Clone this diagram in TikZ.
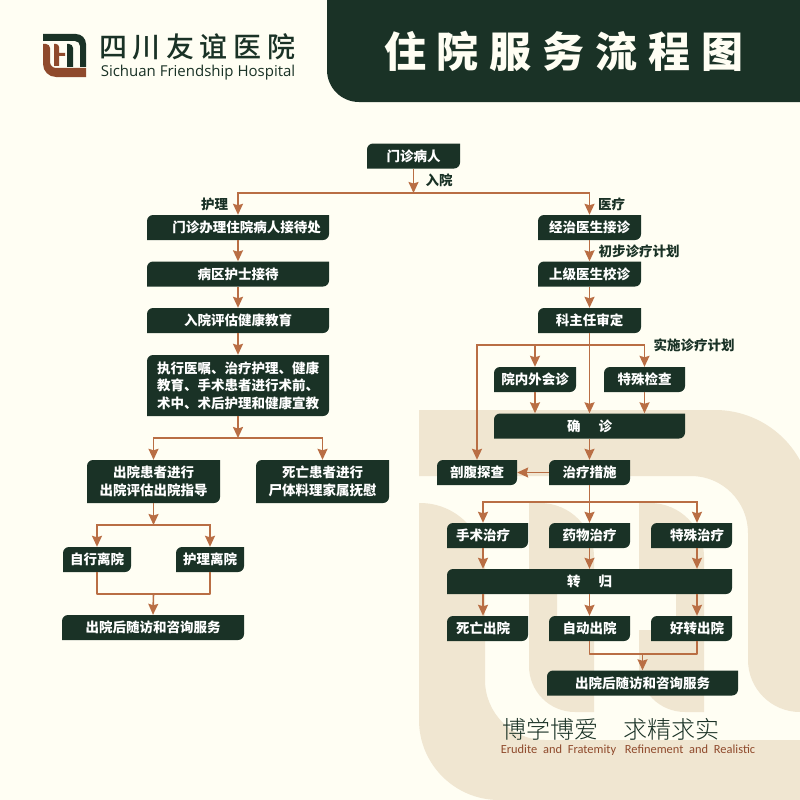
\documentclass[tikz,border=0pt]{standalone}
\usepackage{fontspec}
\setmainfont{Noto Sans CJK SC}
\newfontfamily\latinfont{Open Sans}
\newfontfamily\mottolatin{Carlito}
\newfontfamily\mottofont{Noto Sans CJK SC Light}
\newfontfamily\logofont{Noto Sans CJK SC Medium}
\usetikzlibrary{positioning}
\usetikzlibrary{arrows.meta}
\definecolor{pagecream}{HTML}{FFFEF3}
\definecolor{bandtan}{HTML}{F0E6D1}
\definecolor{boxdark}{HTML}{1A3226}
\definecolor{linebrown}{HTML}{B96E44}
\definecolor{logobrown}{HTML}{8F4A2C}
\tikzset{
  stepbox/.style={minimum width=#1, minimum height=25pt, inner sep=0pt, text=white, align=center,
    font=\fontsize{13.5pt}{17.6pt}\selectfont\bfseries,
    path picture={\fill[boxdark] (path picture bounding box.south west)
      -- ([yshift=-6pt]path picture bounding box.north west)
      arc[start angle=180,end angle=90,radius=6pt]
      -- (path picture bounding box.north east)
      -- ([yshift=6pt]path picture bounding box.south east)
      arc[start angle=0,end angle=-90,radius=6pt] -- cycle;}},
  flow/.style={draw=linebrown, line width=1.6pt, -{Stealth[length=11pt,width=10pt,inset=1.5pt]}},
  joinline/.style={draw=linebrown, line width=1.6pt, line join=round},
  tag/.style={inner sep=0pt, text=boxdark, font=\fontsize{13.5pt}{16pt}\selectfont\bfseries}
}
\begin{document}
\begin{tikzpicture}[x=1pt,y=-1pt,node distance=46.5pt,on grid]
   \useasboundingbox (0,0) rectangle (800,800);
   % page and the big bands behind the chart
   \fill[pagecream] (0,0) rectangle (800,800);
   \fill[bandtan] (419,410) -- (715,410) arc[start angle=90,end angle=28.8,radius=97pt] -- (800,712)
      arc[start angle=270,end angle=180,radius=52pt] -- (748,533)
      arc[start angle=0,end angle=90,radius=57pt] -- (419,476) -- cycle;
   \fill[bandtan] (419,503) -- (420,503) arc[start angle=90,end angle=0,radius=65pt] -- (485,680)
      arc[start angle=180,end angle=270,radius=60pt] -- (800,740) -- (800,800) -- (499,800)
      arc[start angle=270,end angle=180,radius=80pt] -- cycle;
   \fill[bandtan] (529,503) -- (540,503) arc[start angle=90,end angle=0,radius=54pt] -- (594,580)
      -- (557,580) -- (557,630) -- (594,630) -- (594,712) -- (575,712)
      arc[start angle=270,end angle=180,radius=46pt] -- cycle;
   \fill[bandtan] (639,503) -- (650,503) arc[start angle=90,end angle=0,radius=54pt] -- (704,712) -- (685,712)
      arc[start angle=270,end angle=180,radius=46pt] -- (639,630) -- (676,630) -- (676,580) -- (639,580) -- cycle;
   % header
   \fill[boxdark] (327,0) -- (800,0) -- (800,102) -- (359,102) arc[start angle=270,end angle=180,radius=32pt] -- cycle;
   \node[inner sep=0pt, text=pagecream, font=\fontsize{42pt}{46pt}\selectfont\bfseries] (title) at (564,51)
      {住\hspace{11pt}院\hspace{11pt}服\hspace{11pt}务\hspace{11pt}流\hspace{11pt}程\hspace{11pt}图};
   % logo
   \fill[boxdark] (43,34) -- (76,34) arc[start angle=90,end angle=0,radius=10pt] -- (86,67) -- (80,67) -- (80,46)
      arc[start angle=0,end angle=90,radius=5pt] -- (43,41) -- cycle;
   \fill[boxdark] (67,44) -- (69,44) arc[start angle=90,end angle=0,radius=4pt] -- (73,67) -- (67,67) -- cycle;
   \fill[logobrown] (43,44) -- (46,44) arc[start angle=90,end angle=0,radius=4pt] -- (50,62)
      arc[start angle=180,end angle=270,radius=6pt] -- (86,68) -- (86,77) -- (56,77)
      arc[start angle=270,end angle=180,radius=13pt] -- cycle;
   \fill[logobrown] (54,44) -- (56,44) arc[start angle=90,end angle=0,radius=3pt] -- (59,53) -- (65,53) -- (65,56) -- (59,56) -- (59,66) -- (54,66) -- cycle;
   \node[inner sep=0pt, text=boxdark, font=\logofont\fontsize{28pt}{30pt}\selectfont] (logoname) at (197,47)
      {四\hspace{5.6pt}川\hspace{5.6pt}友\hspace{5.6pt}谊\hspace{5.6pt}医\hspace{5.6pt}院};
   \node[inner sep=0pt, text=boxdark, font=\latinfont\fontsize{15pt}{17pt}\selectfont] (logolatin) at (198,72.5)
      {Sichuan Friendship Hospital};
   % start of the chart
   \node[stepbox=93pt] (patient) at (413.5,156) {门诊病人};
   \coordinate (split) at (413.5,193);
   % nursing side
   \node[stepbox=182pt] (reception) at (238,227.5) {\hspace*{17pt}门诊办理住院病人接待处};
   \node[stepbox=182pt] (ward) [below=of reception] {病区护士接待};
   \node[stepbox=182pt] (assess) [below=of ward] {入院评估健康教育};
   \node[stepbox=182pt, minimum height=61pt] (care) at (238,385.5)
      {执行医嘱、治疗护理、健康\\[0pt]教育、手术患者进行术前、\\[0pt]术中、术后护理和健康宣教};
   \node[stepbox=133pt, minimum height=43pt] (leave) at (153.5,481.5) {出院患者进行\\出院评估出院指导};
   \node[stepbox=133pt, minimum height=43pt] (dead) [right=169pt of leave] {死亡患者进行\\尸体料理家属抚慰};
   \node[stepbox=68pt] (self) at (97,559.5) {自行离院};
   \node[stepbox=68pt] (nursed) [right=113pt of self] {护理离院};
   \node[stepbox=182pt] (followa) at (153,627.5) {出院后随访和咨询服务};
   % medical side
   \node[stepbox=103pt] (doctor) at (589.5,227.5) {经治医生接诊};
   \node[stepbox=103pt] (senior) [below=of doctor] {上级医生校诊};
   \node[stepbox=103pt] (chief) [below=of senior] {科主任审定};
   \node[stepbox=82pt] (consult) at (535,379.5) {院内外会诊};
   \node[stepbox=81pt] (special) at (644.5,379.5) {特殊检查};
   \node[stepbox=191pt] (confirm) at (589.5,426) {确\hspace{18pt}诊};
   \node[stepbox=81pt] (treat) at (589.5,472.5) {治疗措施};
   \node[stepbox=80pt] (probe) at (477,472.5) {剖腹探查};
   \node[stepbox=81pt] (surgery) at (487.5,535.5) {\hspace*{-9pt}手术治疗};
   \node[stepbox=81pt] (drug) at (589.5,535.5) {药物治疗};
   \node[stepbox=81pt] (other) at (691.5,535.5) {\hspace*{11pt}特殊治疗};
   \node[stepbox=285pt] (outcome) at (589.5,581.5) {转\hspace{18pt}归};
   \node[stepbox=81pt] (deceased) at (487.5,628.5) {\hspace*{-9pt}死亡出院};
   \node[stepbox=81pt] (selfout) at (589.5,628.5) {自动出院};
   \node[stepbox=81pt] (better) at (691.5,628.5) {\hspace*{11pt}好转出院};
   \node[stepbox=191pt] (followb) at (642.5,683) {出院后随访和咨询服务};
   % labels
   \node[tag] (admit) at (439,180) {入院};
   \node[tag] (nursing) at (214.5,204) {护理};
   \node[tag] (medical) at (611.5,204) {医疗};
   \node[tag] (firstplan) at (639,251) {初步诊疗计划};
   \node[tag] (doplan) at (694,345) {实施诊疗计划};
   % connectors, left
   \draw[flow] (patient.south) -- (split);
   \draw[flow] (split) -| (reception.north);
   \draw[flow] (split) -| (doctor.north);
   \draw[flow] (reception) -- (ward);
   \draw[flow] (ward) -- (assess);
   \draw[flow] (assess) -- (care);
   \coordinate (splitb) at (238,438);
   \draw[flow] (care) -- (splitb);
   \draw[flow] (splitb) -| (leave.north);
   \draw[flow] (splitb) -| (dead.north);
   \coordinate (splitc) at (153.5,525);
   \draw[flow] (leave) -- (splitc);
   \draw[flow] (splitc) -| (self.north);
   \draw[flow] (splitc) -| (nursed.north);
   \coordinate (joina) at (153.5,594);
   \draw[joinline] (self.south) |- (joina) -| (nursed.south);
   \draw[flow] (joina) -- (followa.north);
   % connectors, right
   \draw[flow] (doctor) -- (senior);
   \draw[flow] (senior) -- (chief);
   \draw[flow] (chief) -- (confirm);
   \coordinate (splitd) at (589.5,345);
   \draw[flow] (splitd) -| (probe.north);
   \draw[flow] (splitd) -| (consult.north);
   \draw[flow] (splitd) -| (special.north);
   \draw[flow] (consult.south) -- (consult.south |- confirm.north);
   \draw[flow] (special.south) -- (special.south |- confirm.north);
   \draw[flow] (confirm) -- (treat);
   \draw[flow] (treat) -- (probe);
   \coordinate (splite) at (589.5,502);
   \draw[flow] (treat) -- (drug);
   \draw[flow] (splite) -| ([xshift=-4.5pt]surgery.north);
   \draw[flow] (splite) -| ([xshift=5.5pt]other.north);
   \draw[flow] ([xshift=-4.5pt]surgery.south) -- ([xshift=-4.5pt]surgery.south |- outcome.north);
   \draw[flow] (drug) -- (outcome);
   \draw[flow] ([xshift=5.5pt]other.south) -- ([xshift=5.5pt]other.south |- outcome.north);
   \draw[flow] ([xshift=-4.5pt]surgery.south |- outcome.south) -- ([xshift=-4.5pt]deceased.north);
   \draw[flow] (outcome) -- (selfout);
   \draw[flow] ([xshift=5.5pt]other.south |- outcome.south) -- ([xshift=5.5pt]better.north);
   \coordinate (joinb) at (642.5,654);
   \draw[joinline] (selfout.south) |- (joinb) -| ([xshift=5.5pt]better.south);
   \draw[flow] (joinb) -- (followb.north);
   % motto
   \node[inner sep=0pt, text=boxdark, font=\mottofont\fontsize{24pt}{26pt}\selectfont] (mottocn) at (611,729)
      {博学博爱\hspace{26pt}求精求实};
   \node[inner sep=0pt, text=logobrown, font=\mottolatin\fontsize{12.4pt}{15pt}\selectfont] (mottoen) at (628,750.5)
      {Erudite\hspace{3pt} and\hspace{3pt} Fratemity\hspace{6pt} Refinement\hspace{3pt} and\hspace{3pt} Realistic};
\end{tikzpicture}
\end{document}
